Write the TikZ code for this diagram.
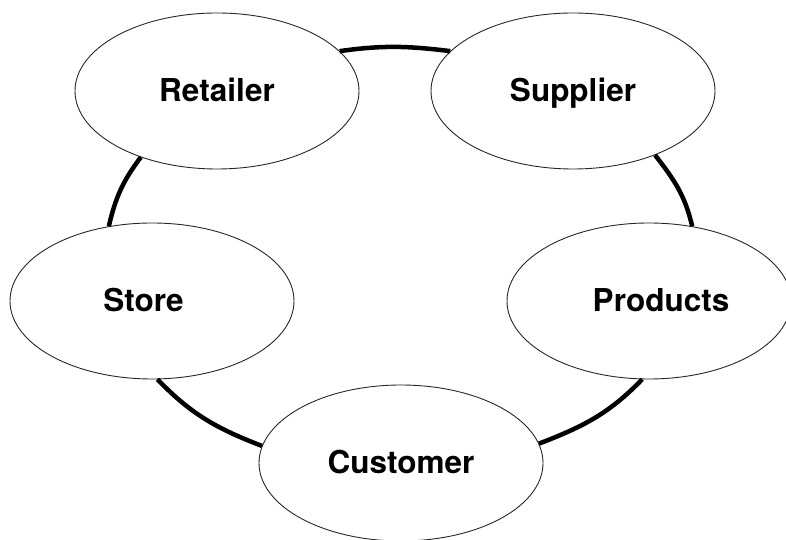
\documentclass[tikz,border=0pt]{standalone}
\usepackage{fontspec}
\setmainfont{TeX Gyre Heros}
\usetikzlibrary{shapes.geometric,positioning}

\tikzstyle{party} = [draw, ellipse, line width=0.9pt, minimum width=284pt,
                     minimum height=156pt, inner sep=0pt, text height=22pt,
                     text depth=0pt, font=\bfseries\fontsize{31.5}{37}\selectfont]
\tikzstyle{link} = [line width=4.5pt]

\begin{document}
\begin{tikzpicture} [x=1pt, y=1pt, auto]

\def\colE{black!85}
\def\colL{black}

\useasboundingbox (0,0) rectangle (786,540);

\node[party,
      draw=\colE]
      (ret) at (217,449) {Retailer};

\node[party,
      node distance=356pt,right of=ret,
      draw=\colE]
      (sup) {Supplier};

\node[party,
      node distance=210pt,below of=ret,xshift=-65pt,
      draw=\colE]
      (store) {Store\hspace*{17pt}};

\node[party,
      node distance=210pt,below of=sup,xshift=76pt,
      draw=\colE]
      (prod) {\hspace*{24pt}Products};

\node[party,
      node distance=372pt,below of=ret,xshift=184pt,
      draw=\colE]
      (cust) {Customer};

% the ring, one arc for each pair of neighbours
\draw[link,\colL]
     (ret.18) to[out=8,in=173] (sup.162);

\draw[link,\colL]
     (sup.322) to[out=-52,in=103] (prod.60);

\draw[link,\colL]
     (prod.265) to[out=-134,in=21] (cust.8);

\draw[link,\colL]
     (cust.173) to[out=159,in=-46] (store.274);

\draw[link,\colL]
     (store.120) to[out=77,in=233] (ret.221);

\end{tikzpicture}
\end{document}
